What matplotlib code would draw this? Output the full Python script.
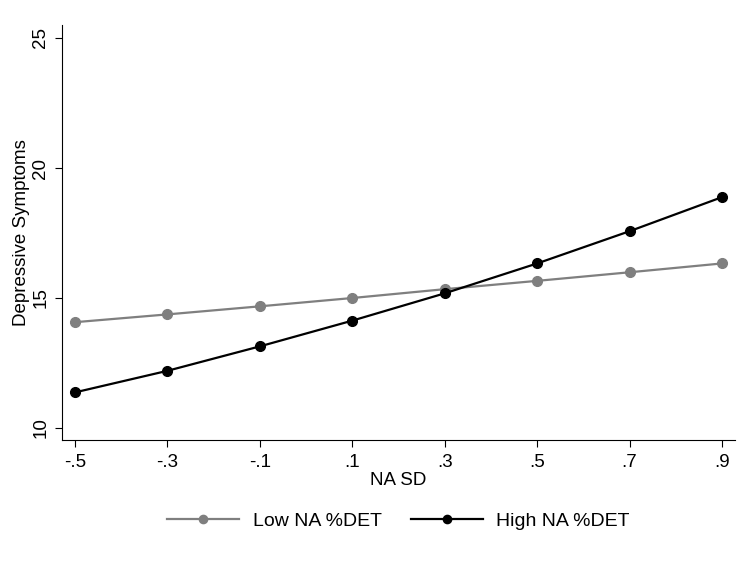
import numpy as np
import matplotlib.pyplot as plt

plt.rcParams['font.family'] = ['Liberation Sans', 'DejaVu Sans']

# data
na_sd = [-0.5, -0.3, -0.1, 0.1, 0.3, 0.5, 0.7, 0.9]
x_labels = ['-.5', '-.3', '-.1', '.1', '.3', '.5', '.7', '.9']
low_det = [14.07, 14.37, 14.68, 15.0, 15.34, 15.66, 15.99, 16.33]
high_det = [11.37, 12.20, 13.14, 14.13, 15.18, 16.33, 17.57, 18.88]
y_ticks = [10, 15, 20, 25]

fig = plt.figure(figsize=(7.45, 5.63), dpi=100)
ax = fig.add_axes([0.0832, 0.2185, 0.9034, 0.7371])

ax.plot(na_sd, low_det, color='#7f7f7f', lw=1.6, marker='o', ms=7, label='Low NA %DET')
ax.plot(na_sd, high_det, color='black', lw=1.6, marker='o', ms=7, label='High NA %DET')

ax.set_xlim(-0.528, 0.928)
ax.set_ylim(9.54, 25.5)
ax.set_xticks(na_sd)
ax.set_xticklabels(x_labels)
ax.set_yticks(y_ticks)
ax.set_yticklabels([str(v) for v in y_ticks], rotation=90, va='center')
ax.tick_params(labelsize=13.5, length=5, width=0.8, colors='black')
ax.tick_params(axis='x', pad=5)
ax.tick_params(axis='y', pad=4)
ax.spines['top'].set_visible(False)
ax.spines['right'].set_visible(False)
for s in ['left', 'bottom']:
    ax.spines[s].set_linewidth(0.8)

ax.set_xlabel('NA SD', fontsize=13.5, labelpad=1)
ax.set_ylabel('Depressive Symptoms', fontsize=13.5, labelpad=2)

fig.legend(loc='center', bbox_to_anchor=(0.535, 0.075), ncol=2, frameon=False,
           fontsize=14, handlelength=3.7, handletextpad=0.7, columnspacing=1.5,
           markerscale=0.85)

fig.savefig('out.png', dpi=100, facecolor='white')
